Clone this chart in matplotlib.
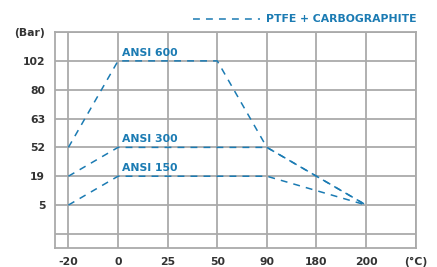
import matplotlib
matplotlib.use("Agg")
import matplotlib.pyplot as plt

# Data (categorical positions on equally spaced axes)
x_labels = ["-20", "0", "25", "50", "90", "180", "200", "(°C)"]
y_labels = ["", "5", "19", "52", "63", "80", "102", "(Bar)"]

# Each series: list of (temperature label, pressure label)
ansi600_t = ["-20", "0", "50", "90", "200"]
ansi600_p = ["52", "102", "102", "52", "5"]
ansi300_t = ["-20", "0", "90", "200"]
ansi300_p = ["19", "52", "52", "5"]
ansi150_t = ["-20", "0", "90", "200"]
ansi150_p = ["5", "19", "19", "5"]

series = [("ANSI 600", ansi600_t, ansi600_p),
          ("ANSI 300", ansi300_t, ansi300_p),
          ("ANSI 150", ansi150_t, ansi150_p)]
legend_label = "PTFE + CARBOGRAPHITE"

BLUE = "#1b7bb3"
GRID = "#aaaaaa"
TXT = "#333333"

plt.rcParams['font.family'] = ['DejaVu Sans']
fig = plt.figure(figsize=(4.37, 2.67), dpi=100)
ax = fig.add_axes([0.1259, 0.070, 0.9513 - 0.1259, 0.880 - 0.070])

xi = {l: i for i, l in enumerate(x_labels)}
yi = {l: i for i, l in enumerate(y_labels)}

for name, ts, ps in series:
    xs = [xi[t] for t in ts]
    ys = [yi[p] for p in ps]
    ax.plot(xs, ys, color=BLUE, lw=1.1, linestyle=(0, (4.5, 4)), zorder=3, clip_on=False)
    # label above flat segment starting at x index 1
    ax.text(xs[1] + 0.07, ys[1] + 0.28, name, color=BLUE, fontsize=7.8,
            fontweight='bold', ha='left', va='center')

ax.set_xlim(-0.27, 7)
ax.set_ylim(-0.5, 7)
ax.set_xticks(range(len(x_labels)))
ax.set_xticklabels(x_labels)
ax.set_yticks(range(len(y_labels)))
ax.set_yticklabels(y_labels)
ax.tick_params(length=0, labelsize=7.8, colors=TXT, pad=6)
ax.tick_params(axis='y', pad=7)
for lab in ax.get_xticklabels() + ax.get_yticklabels():
    lab.set_fontweight('bold')
ax.grid(True, color=GRID, lw=1.3, zorder=0)
for s in ax.spines.values():
    s.set_color(GRID)
    s.set_linewidth(1.3)

# Legend drawn in figure coordinates
W, H = 437, 267
fig.lines.append(plt.Line2D([193 / W, 260 / W], [1 - 18.5 / H, 1 - 18.5 / H],
                            transform=fig.transFigure, color=BLUE, lw=1.1,
                            linestyle=(0, (4.5, 4))))
fig.text(266 / W, 1 - 18.5 / H, legend_label, color=BLUE, fontsize=7.8,
         fontweight='bold', ha='left', va='center')

fig.savefig("out.png", dpi=100)
